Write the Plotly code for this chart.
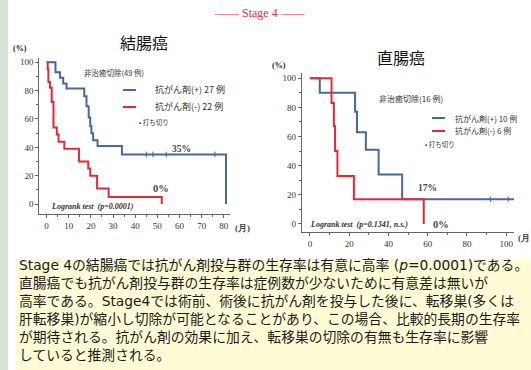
import plotly.graph_objects as go

W, H = 531, 370

# ---------------- data ----------------
colon_pos_t = [0, 4, 6, 7.5, 9, 17, 18, 19, 19.7, 20.2, 21, 23, 34, 81]
colon_pos_s = [100, 93, 89, 85, 81.5, 76, 69, 61, 55, 50, 45, 41, 35, 0]
colon_pos_cens_t = [45, 48, 54, 76]
colon_pos_cens_s = [35, 35, 35, 35]

colon_neg_t = [0, 0.5, 0.8, 1.5, 2.3, 3.1, 4.6, 5.4, 8, 14.6, 18.8, 19.7, 22.8, 28, 52]
colon_neg_s = [100, 95, 86, 82, 72, 54, 49, 44, 39, 30, 25, 20, 11, 5, 0]

rect_pos_t = [0, 5, 23, 24, 28.5, 35, 47, 106]
rect_pos_s = [100, 90, 77, 63, 51, 34, 17, 17]
rect_pos_cens_t = [92, 101]
rect_pos_cens_s = [17, 17]

rect_neg_t = [0, 11, 12.2, 12.8, 14, 22.4, 58]
rect_neg_s = [100, 83, 67, 50, 33, 17, 0]

colon_xticks = [0, 10, 20, 30, 40, 50, 60, 70, 80]
rect_xticks = [0, 20, 40, 60, 80, 100]
yticks = [0, 20, 40, 60, 80, 100]

BLUE = "#46679f"
RED = "#e3283a"
JP = "Noto Sans CJK JP"
SERIF = "Liberation Serif"
BODY = "DejaVu Sans, Noto Sans CJK JP"


def px(x):
    return x / W


def py(y):
    return 1 - y / H


fig = go.Figure()

# left chart: red first, blue on top
fig.add_trace(go.Scatter(x=colon_neg_t, y=colon_neg_s, mode="lines", line_shape="hv",
                         line=dict(color=RED, width=2), xaxis="x", yaxis="y", showlegend=False))
fig.add_trace(go.Scatter(x=colon_pos_t, y=colon_pos_s, mode="lines", line_shape="hv",
                         line=dict(color=BLUE, width=2), xaxis="x", yaxis="y", showlegend=False))
fig.add_trace(go.Scatter(x=colon_pos_cens_t, y=colon_pos_cens_s, mode="markers",
                         marker=dict(symbol="line-ns", size=4, line=dict(color=BLUE, width=1)),
                         xaxis="x", yaxis="y", showlegend=False))

# right chart: blue first, red on top
fig.add_trace(go.Scatter(x=rect_pos_t, y=rect_pos_s, mode="lines", line_shape="hv",
                         line=dict(color=BLUE, width=2), xaxis="x2", yaxis="y2", showlegend=False))
fig.add_trace(go.Scatter(x=rect_neg_t, y=rect_neg_s, mode="lines", line_shape="hv",
                         line=dict(color=RED, width=2), xaxis="x2", yaxis="y2", showlegend=False))
fig.add_trace(go.Scatter(x=rect_pos_cens_t, y=rect_pos_cens_s, mode="markers",
                         marker=dict(symbol="line-ns", size=4, line=dict(color=BLUE, width=1)),
                         xaxis="x2", yaxis="y2", showlegend=False))

axis_common = dict(showline=True, linecolor="#666", linewidth=1, ticks="outside", ticklen=3,
                   tickcolor="#666", showgrid=False, zeroline=False,
                   tickfont=dict(family=SERIF, size=9, color="#333"),
                   minor=dict(ticks="outside", ticklen=2, tickcolor="#666"))

fig.update_layout(
    width=W, height=H, margin=dict(l=0, r=0, t=0, b=0),
    paper_bgcolor="white", plot_bgcolor="white",
    xaxis=dict(domain=[px(39.3), px(230)], range=[-3.3, 82.8], anchor="y",
               tickvals=colon_xticks, minor_dtick=5, **axis_common),
    yaxis=dict(domain=[py(214), py(58)], range=[-7, 103], anchor="x",
               tickvals=yticks, minor_dtick=10, **axis_common),
    xaxis2=dict(domain=[px(301.7), px(514)], range=[-4.2, 104], anchor="y2",
                tickvals=rect_xticks, minor_dtick=10, **axis_common),
    yaxis2=dict(domain=[py(231.7), py(73.3)], range=[-5.3, 103.4], anchor="x2",
                tickvals=yticks, minor_dtick=10, **axis_common),
)

# background decorations
fig.add_shape(type="rect", xref="paper", yref="paper", x0=0, x1=px(8), y0=0, y1=1,
              fillcolor="#d5e2d5", line_width=0, layer="below")
fig.add_shape(type="rect", xref="paper", yref="paper", x0=px(16), x1=1, y0=0, y1=py(259),
              fillcolor="#fffbd4", line_width=0, layer="below")

ann = []


def txt(x, y, s, size=9, color="#222", family=JP, xanchor="left", italic=False, yanchor="middle"):
    t = f"<i>{s}</i>" if italic else s
    ann.append(dict(x=px(x), y=py(y), xref="paper", yref="paper", text=t, showarrow=False,
                    xanchor=xanchor, yanchor=yanchor, align="left",
                    font=dict(size=size, color=color, family=family)))


# header
txt(260, 13, "—— Stage 4 ——", size=12, color="#e0303c", family=SERIF, xanchor="center")

# left chart texts
txt(144, 42, "結腸癌", size=16, color="#111", xanchor="center")
txt(11, 48, "<b>(%)</b>", size=8, family=SERIF)
txt(82, 72, "非治癒切除(49 例)", size=7.5, color="#333")
txt(153, 90, "抗がん剤(+) 27 例", size=9, color="#333")
txt(153, 107, "抗がん剤(-) 22 例", size=9, color="#333")
txt(137, 122, "• 打ち切り", size=6.5, color="#333")
txt(181, 149, "<b>35%</b>", size=9.5, color="#444", family=SERIF, xanchor="center")
txt(161, 188, "<b>0%</b>", size=10.5, color="#444", family=SERIF, xanchor="center")
txt(49, 207, "<b>Logrank test  (p=0.0001)</b>", size=8, color="#333", family=SERIF, italic=True)
txt(233, 228, "<b>(月)</b>", size=9, color="#444", family=SERIF)

# right chart texts
txt(401, 57, "直腸癌", size=16, color="#111", xanchor="center")
txt(270, 66, "<b>(%)</b>", size=8, family=SERIF)
txt(377, 99, "非治癒切除(16 例)", size=8, color="#333")
txt(453, 118, "抗がん剤(+) 10 例", size=8, color="#333")
txt(453, 131, "抗がん剤(-) 6 例", size=8, color="#333")
txt(423, 144, "• 打ち切り", size=6.5, color="#333")
txt(427, 188, "<b>17%</b>", size=9.5, color="#444", family=SERIF, xanchor="center")
txt(441, 224, "<b>0%</b>", size=10.5, color="#444", family=SERIF, xanchor="center")
txt(308, 224, "<b>Logrank test  (p=0.1341, n.s.)</b>", size=8, color="#333", family=SERIF, italic=True)
txt(516, 238, "<b>(月</b>", size=9, color="#444", family=SERIF)

# legend sample lines (paper shapes)
for (x0, x1, y, c) in [(123, 136, 90, BLUE), (123, 136, 107, RED),
                       (432, 445, 118, BLUE), (432, 445, 131, RED)]:
    fig.add_shape(type="line", xref="paper", yref="paper", x0=px(x0), x1=px(x1), y0=py(y), y1=py(y),
                  line=dict(color=c, width=2))

# bottom paragraph
lines = [
    "Stage 4の結腸癌では抗がん剤投与群の生存率は有意に高率 (<i>p</i>=0.0001)である。",
    "直腸癌でも抗がん剤投与群の生存率は症例数が少ないために有意差は無いが",
    "高率である。Stage4では術前、術後に抗がん剤を投与した後に、転移巣(多くは",
    "肝転移巣)が縮小し切除が可能となることがあり、この場合、比較的長期の生存率",
    "が期待される。抗がん剤の効果に加え、転移巣の切除の有無も生存率に影響",
    "していると推測される。",
]
txt(17, 255, "<br>".join(lines), size=13.8, color="#1a1a1a", family=BODY, yanchor="top")

fig.update_layout(annotations=ann)
fig.write_html("out.html")
